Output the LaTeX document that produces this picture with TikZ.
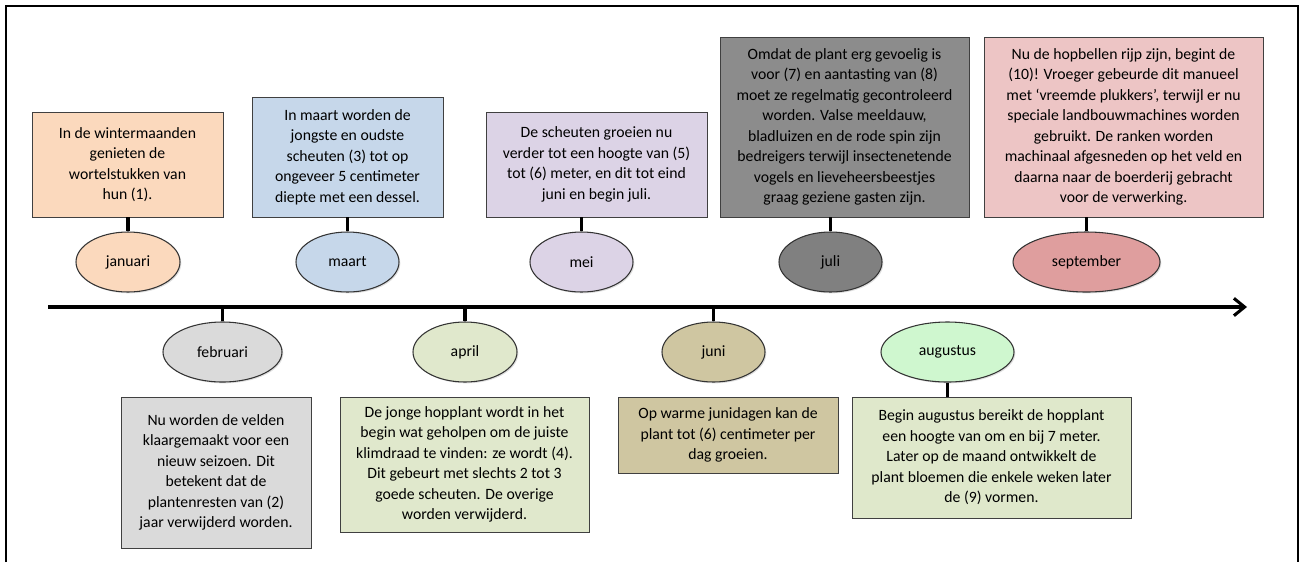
\documentclass[tikz,border=0pt]{standalone}
\usepackage{fontspec}
\setmainfont{Carlito}
\usetikzlibrary{shapes.geometric,shadows,arrows.meta}
\definecolor{janfill}{HTML}{FBD9BD}
\definecolor{febfill}{HTML}{DADADA}
\definecolor{mrtfill}{HTML}{C6D7EA}
\definecolor{aprfill}{HTML}{E0E8CC}
\definecolor{meifill}{HTML}{DCD3E6}
\definecolor{junfill}{HTML}{CFC6A1}
\definecolor{julfill}{HTML}{8C8C8C}
\definecolor{julell}{HTML}{808080}
\definecolor{augell}{HTML}{CFF7CF}
\definecolor{augfill}{HTML}{DFE8CB}
\definecolor{sepfill}{HTML}{EDC5C5}
\definecolor{sepell}{HTML}{DF9E9E}
\begin{document}
\begin{tikzpicture}[x=0.75pt,y=-0.75pt,
  font=\fontsize{11.8}{15.4}\selectfont,
  size/.style 2 args={minimum width=#1*0.75pt,minimum height=#2*0.75pt},
  box/.style={draw=black!75,line width=0.6pt,align=center,inner sep=0pt,
    drop shadow={opacity=0.25,shadow xshift=1pt,shadow yshift=-1pt}},
  month/.style={ellipse,draw=black!80,line width=0.8pt,inner sep=0pt,
    drop shadow={opacity=0.25,shadow xshift=1pt,shadow yshift=-1pt}},
  stem/.style={line width=2.5pt}]
\useasboundingbox (0,0) rectangle (1300,562);
\draw[line width=1.5pt] (6,562) -- (6,6) -- (1298,6) -- (1298,562);
% timeline
\coordinate (start) at (48,307);
\coordinate (end) at (1247,307);
\draw[line width=2.3pt,-{Straight Barb[length=8pt,width=13pt]}] (start) -- (end);
% months above the line
\node[box,fill=janfill,size={191}{105}] (janbox) at (127.5,164.5) {In de wintermaanden\\genieten de\\wortelstukken van\\hun (1).};
\node[month,fill=janfill,size={104}{60}] (janell) at (128,262) {januari};
\node[box,fill=mrtfill,size={191}{120}] (mrtbox) at (347.5,157) {In maart worden de\\jongste en oudste\\scheuten (3) tot op\\ongeveer 5 centimeter\\diepte met een dessel.};
\node[month,fill=mrtfill,size={103}{60}] (mrtell) at (347.5,262) {maart};
\node[box,fill=meifill,size={221}{105}] (meibox) at (596.5,164.5) {De scheuten groeien nu\\verder tot een hoogte van (5)\\tot (6) meter, en dit tot eind\\juni en begin juli.};
\node[month,fill=meifill,size={103}{60}] (meiell) at (581.5,262) {mei};
\node[box,fill=julfill,size={249}{180}] (julbox) at (844.5,127) {Omdat de plant erg gevoelig is\\voor (7) en aantasting van (8)\\moet ze regelmatig gecontroleerd\\worden. Valse meeldauw,\\bladluizen en de rode spin zijn\\bedreigers terwijl insectenetende\\vogels en lieveheersbeestjes\\graag geziene gasten zijn.};
\node[month,fill=julell,size={103}{60}] (julell) at (830.5,262) {juli};
\node[box,fill=sepfill,size={279}{180}] (sepbox) at (1123.5,127) {Nu de hopbellen rijp zijn, begint de\\(10)! Vroeger gebeurde dit manueel\\met ‘vreemde plukkers’, terwijl er nu\\speciale landbouwmachines worden\\gebruikt. De ranken worden\\machinaal afgesneden op het veld en\\daarna naar de boerderij gebracht\\voor de verwerking.};
\node[month,fill=sepell,size={147}{60}] (sepell) at (1086.5,262) {september};
\draw[stem] (janell.north) -- (janell.north |- janbox.south);
\draw[stem] (mrtell.north) -- (mrtell.north |- mrtbox.south);
\draw[stem] (meiell.north) -- (meiell.north |- meibox.south);
\draw[stem] (julell.north) -- (julell.north |- julbox.south);
\draw[stem] (sepell.north) -- (sepell.north |- sepbox.south);
% months below the line
\node[month,fill=febfill,size={119}{60}] (febell) at (222.5,352) {februari};
\node[box,fill=febfill,size={190}{151}] (febbox) at (216,472.5) {Nu worden de velden\\klaargemaakt voor een\\nieuw seizoen. Dit\\betekent dat de\\plantenresten van (2)\\jaar verwijderd worden.};
\node[month,fill=aprfill,size={104}{60}] (aprell) at (465,352) {april};
\node[box,fill=aprfill,size={249}{135}] (aprbox) at (464.5,464.5) {De jonge hopplant wordt in het\\begin wat geholpen om de juiste\\klimdraad te vinden: ze wordt (4).\\Dit gebeurt met slechts 2 tot 3\\goede scheuten. De overige\\worden verwijderd.};
\node[month,fill=junfill,size={103}{60}] (junell) at (713.5,352) {juni};
\node[box,fill=junfill,size={220}{76}] (junbox) at (728,435) {Op warme junidagen kan de\\plant tot (6) centimeter per\\dag groeien.};
\node[month,fill=augell,size={133}{60}] (augell) at (947.5,352) {augustus};
\node[box,fill=augfill,size={279}{121}] (augbox) at (991.5,457.5) {Begin augustus bereikt de hopplant\\een hoogte van om en bij 7 meter.\\Later op de maand ontwikkelt de\\plant bloemen die enkele weken later\\de (9) vormen.};
\draw[stem] (febell.north) -- (febell.north |- start);
\draw[stem] (aprell.north) -- (aprell.north |- start);
\draw[stem] (junell.north) -- (junell.north |- start);
\draw[stem] (augell.south) -- (augell.south |- augbox.north);
\end{tikzpicture}
\end{document}
